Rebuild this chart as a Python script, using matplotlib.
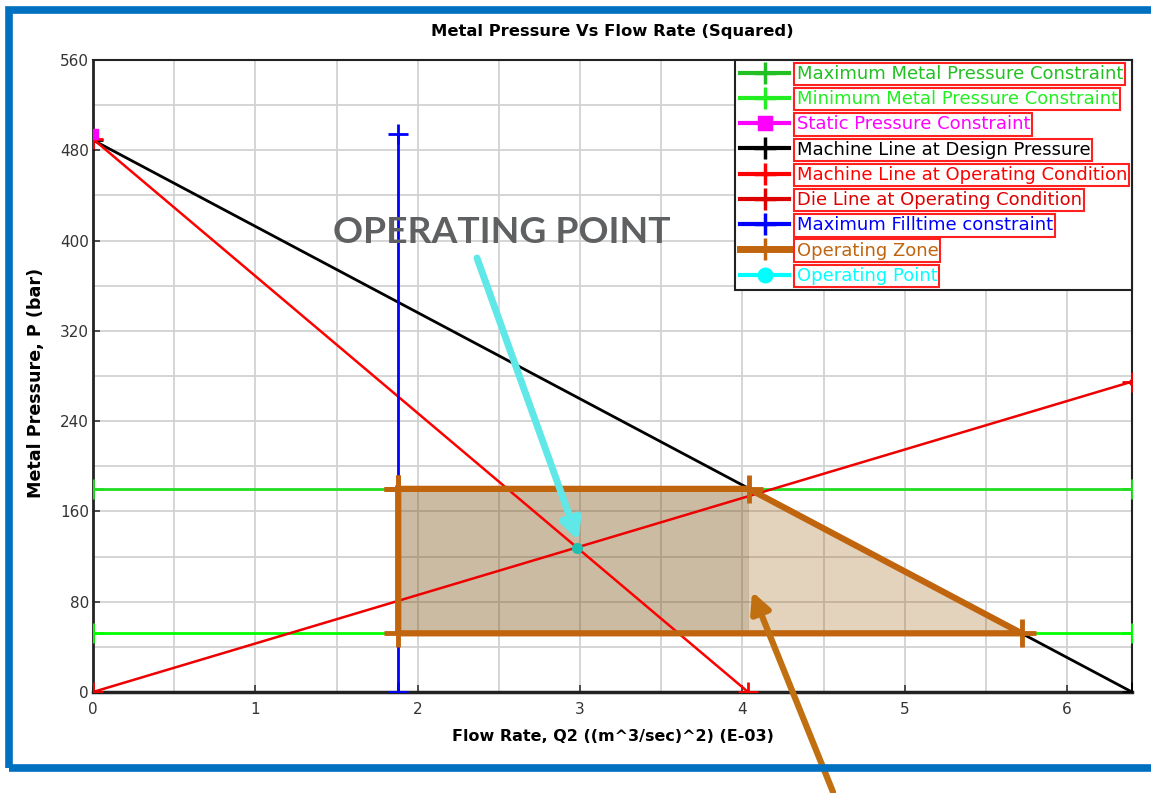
import matplotlib
matplotlib.use("Agg")
import matplotlib.pyplot as plt
from matplotlib.patches import Rectangle
from matplotlib.ticker import MultipleLocator

# ---- data ----
q_limits = [0, 6.4]
max_pressure = [180, 180]
min_pressure = [52, 52]
static_q = [0]
static_p = [494]
design_q = [0, 6.4]
design_p = [489, 0]
machine_op_q = [0, 4.035]
machine_op_p = [490, 0]
die_q = [0, 6.4]
die_p = [0, 275]
filltime_q = [1.88, 1.88]
filltime_p = [0, 494]
zone_q = [1.88, 4.04, 5.72, 1.88, 1.88]
zone_p = [180, 180, 52, 52, 180]
op_q = [2.98]
op_p = [128]

labels = [
    "Maximum Metal Pressure Constraint",
    "Minimum Metal Pressure Constraint",
    "Static Pressure Constraint",
    "Machine Line at Design Pressure",
    "Machine Line at Operating Condition",
    "Die Line at Operating Condition",
    "Maximum Filltime constraint",
    "Operating Zone",
    "Operating Point",
]

fig = plt.figure(figsize=(11.51, 7.93), dpi=100)
W, H = 1151, 793
ax = fig.add_axes([93 / W, 1 - 692 / H, (1132 - 93) / W, (692 - 60) / H])

# grid
ax.set_xlim(0, 6.4)
ax.set_ylim(0, 560)
ax.xaxis.set_major_locator(MultipleLocator(1))
ax.xaxis.set_minor_locator(MultipleLocator(0.5))
ax.yaxis.set_major_locator(MultipleLocator(80))
ax.yaxis.set_minor_locator(MultipleLocator(40))
ax.grid(which="both", color="#d2d2d2", linewidth=1.3, zorder=0)
ax.set_axisbelow(True)

# operating zone fill (rectangle part darker, triangle part lighter)
ax.fill([zone_q[0], zone_q[1], zone_q[1], zone_q[3]],
        [zone_p[0], zone_p[1], zone_p[2], zone_p[3]],
        color="#7d5519", alpha=0.40, lw=0, zorder=1)
ax.fill([zone_q[1], zone_q[2], zone_q[1]],
        [zone_p[1], zone_p[2], zone_p[2]],
        color="#9b5b08", alpha=0.27, lw=0, zorder=1)

pm = dict(marker="+", markersize=15, markeredgewidth=2)
ax.plot(q_limits, max_pressure, color="#22dd22", lw=2, zorder=3, **pm)
ax.plot(q_limits, min_pressure, color="#00ff00", lw=2, zorder=3, **pm)
ax.plot(static_q, static_p, color="#ff00ff", marker="s", markersize=7, lw=2, zorder=4)
ax.plot(design_q, design_p, color="black", lw=2, zorder=3, **pm)
ax.plot(machine_op_q, machine_op_p, color="#ff0000", lw=1.8, zorder=3, **pm)
ax.plot(die_q, die_p, color="#ee0000", lw=1.8, zorder=3, **pm)
ax.plot(die_q[-1:], die_p[-1:], "o", color="#ee0000", markersize=4, zorder=3)
ax.plot(filltime_q, filltime_p, color="#0000ff", lw=2, zorder=3, **pm)
ax.plot(zone_q, zone_p, color="#c0640e", lw=4.5, marker="+",
        markersize=20, markeredgewidth=3.5, zorder=5)
ax.plot(op_q, op_p, color="#1fc0b0", marker="o", markersize=7, lw=0, zorder=6)

for s in ax.spines.values():
    s.set_color("#222222")
    s.set_linewidth(1.5)
ax.spines["bottom"].set_linewidth(2.5)
ax.spines["left"].set_linewidth(2)

ax.tick_params(which="major", direction="in", length=5, width=1.2, labelsize=11,
               labelcolor="#333333", color="#333333")
ax.tick_params(which="minor", length=0)
ax.tick_params(axis="x", pad=7)
ax.tick_params(axis="y", pad=3)

ax.set_title("Metal Pressure Vs Flow Rate (Squared)", fontsize=11.8,
             fontweight="bold", pad=17, family="DejaVu Sans")
ax.set_xlabel("Flow Rate, Q2 ((m^3/sec)^2) (E-03)", fontsize=11.5,
              fontweight="bold", labelpad=9, family="DejaVu Sans")
ax.set_ylabel("Metal Pressure, P (bar)", fontsize=12.6, fontweight="bold",
              family="DejaVu Sans")
ax.yaxis.set_label_coords(-0.046, 0.489)

# legend proxies (line with + marker in the middle)
handle_specs = [
    ("#22c022", "+", 3), ("#22ee22", "+", 3), ("#ff00ff", "s", 3),
    ("black", "+", 3), ("#ff0000", "+", 3), ("#dd0000", "+", 3),
    ("#0000ff", "+", 3), ("#c0640e", "+", 5), ("#00ffff", "o", 3),
]
proxies = []
for c, m, lw in handle_specs:
    ln = plt.Line2D([], [], color=c, lw=lw, marker=m,
                    markersize=16 if m == "+" else 9, markeredgewidth=2.5)
    proxies.append(ln)

leg = ax.legend(proxies, labels, loc="upper right", bbox_to_anchor=(1.0, 1.0),
                frameon=True, fancybox=False, edgecolor="#222222",
                framealpha=1, borderpad=0.28, labelspacing=0.4,
                handlelength=2.75, handletextpad=0.4, borderaxespad=0,
                prop={"family": "DejaVu Sans", "size": 13.0})
leg.get_frame().set_linewidth(1.5)
leg.set_zorder(10)
for txt, (c, m, lw) in zip(leg.get_texts(), handle_specs):
    txt.set_color(c)
    txt.set_bbox(dict(boxstyle="square,pad=0.12", fc="white", ec="#ff2020", lw=1.5))

# annotations
fig.text(333 / W, 1 - 243 / H, "OPERATING POINT", fontsize=26.8, fontweight="bold",
         family="Lato", color="#5e6062", ha="left", va="baseline", zorder=20)
ax.annotate("", xy=(2.99, 134), xycoords="data",
            xytext=(477 / W, 1 - 258 / H), textcoords="figure fraction",
            arrowprops=dict(arrowstyle="-|>,head_length=1.2,head_width=0.6",
                            color="#60e8e8", lw=5, shrinkA=0, shrinkB=0),
            zorder=20, annotation_clip=False)
ax.annotate("", xy=(4.06, 89), xycoords="data",
            xytext=(833 / W, 1 / H), textcoords="figure fraction",
            arrowprops=dict(arrowstyle="-|>,head_length=1.2,head_width=0.6",
                            color="#c07010", lw=4.5, shrinkA=0, shrinkB=0),
            zorder=20, annotation_clip=False)

# blue frame around the chart
fig.patches.append(Rectangle((9 / W, 1 - 767.5 / H), (1200 - 9) / W, (767.5 - 9.5) / H,
                             transform=fig.transFigure, fill=False,
                             ec="#0070c0", lw=5.5, zorder=0))

fig.savefig("out.png", dpi=100)
